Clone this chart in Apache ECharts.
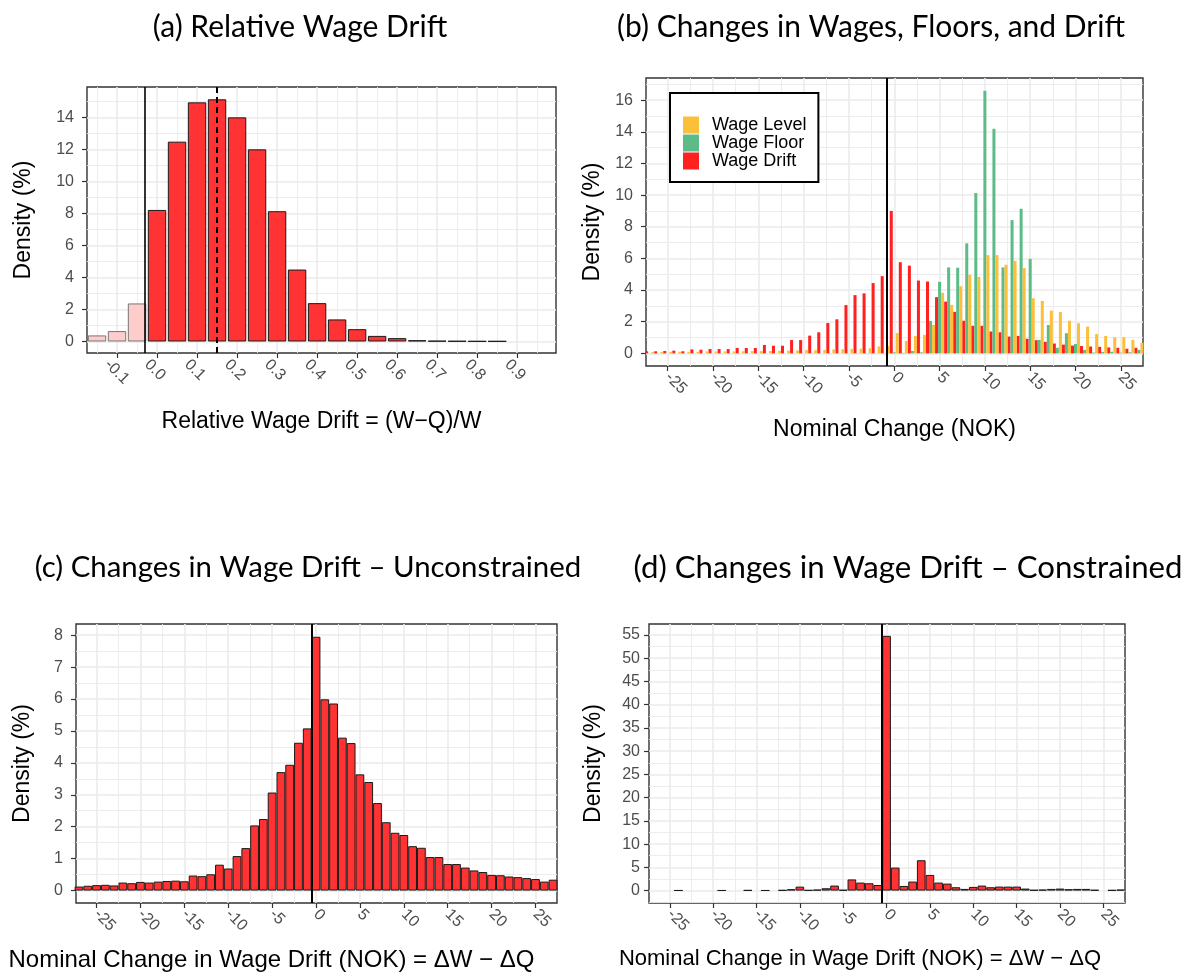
<!DOCTYPE html>
<html>
<head>
<meta charset="utf-8">
<script src="https://cdn.jsdelivr.net/npm/echarts@6/dist/echarts.min.js"></script>
<style>
  html, body { margin: 0; background: #fff; }
  #chart { width: 1189px; height: 974px; }
</style>
</head>
<body>
<div id="chart"></div>
<script>
// ---- (a) relative wage drift: bin centres and density (%)
const driftBins = [-0.15, -0.10, -0.05, 0.00, 0.05, 0.10, 0.15, 0.20, 0.25, 0.30, 0.35,
  0.40, 0.45, 0.50, 0.55, 0.60, 0.65, 0.70, 0.75, 0.80, 0.85];
const driftDensity = [0.38, 0.65, 2.38, 8.23, 12.5, 14.96, 15.15, 14.02, 12.02, 8.15, 4.5,
  2.4, 1.38, 0.77, 0.35, 0.21, 0.08, 0.04, 0.03, 0.02, 0.02];
const driftCut = -0.025;
const driftMean = 0.1535;
const driftTicks = [-0.1, 0, 0.1, 0.2, 0.3, 0.4, 0.5, 0.6, 0.7, 0.8, 0.9];
const driftMinor = [-0.15, -0.05, 0.05, 0.15, 0.25, 0.35, 0.45, 0.55, 0.65, 0.75, 0.85, 0.95];
const densTicksA = [0, 2, 4, 6, 8, 10, 12, 14];
const densMinorA = [1, 3, 5, 7, 9, 11, 13, 15];

// ---- (b) changes in wages, floors and drift (NOK, -27..27)
const nokBins = [-27, -26, -25, -24, -23, -22, -21, -20, -19, -18, -17, -16, -15, -14, -13, -12,
  -11, -10, -9, -8, -7, -6, -5, -4, -3, -2, -1, 0, 1, 2, 3, 4, 5, 6, 7, 8, 9, 10, 11, 12, 13,
  14, 15, 16, 17, 18, 19, 20, 21, 22, 23, 24, 25, 26, 27];
const wageLevel = [0.08, 0.08, 0.1, 0.1, 0.1, 0.1, 0.12, 0.12, 0.12, 0.12, 0.13, 0.14, 0.14, 0.15,
  0.16, 0.17, 0.18, 0.2, 0.2, 0.22, 0.25, 0.26, 0.28, 0.3, 0.32, 0.44, 0.46, 1.28, 0.79, 1.1,
  1.17, 1.8, 3.83, 3.06, 4.24, 4.96, 4.83, 6.21, 6.21, 5.6, 5.84, 5.39, 3.48, 3.31, 2.7, 2.61,
  2.06, 1.9, 1.69, 1.23, 1.1, 1.02, 1.03, 0.85, 0.67];
const wageFloor = [0, 0, 0, 0, 0, 0, 0, 0, 0, 0, 0, 0, 0, 0, 0, 0, 0, 0, 0, 0, 0, 0, 0, 0, 0, 0, 0,
  0.06, 0.03, 0.15, 0.06, 2.05, 4.52, 5.43, 5.41, 6.95, 10.13, 16.59, 14.19, 5.43, 8.42, 9.14,
  5.97, 0.85, 1.79, 0.35, 1.27, 0.59, 0.22, 0.05, 0.09, 0.1, 0.04, 0.07, 0.22];
const wageDrift = [0.13, 0.13, 0.15, 0.17, 0.13, 0.25, 0.23, 0.27, 0.27, 0.27, 0.34, 0.34, 0.34,
  0.53, 0.48, 0.48, 0.84, 0.84, 1.12, 1.33, 1.92, 2.15, 3.05, 3.68, 3.79, 4.44, 4.88, 9.0, 5.76,
  5.54, 4.6, 4.54, 3.55, 3.27, 2.62, 2.06, 1.74, 1.74, 1.38, 1.33, 1.06, 1.1, 0.92, 0.83, 0.73,
  0.62, 0.55, 0.49, 0.46, 0.43, 0.41, 0.37, 0.35, 0.29, 0.35];
const nokTicks = [-25, -20, -15, -10, -5, 0, 5, 10, 15, 20, 25];
const nokMinor = [-22.5, -17.5, -12.5, -7.5, -2.5, 2.5, 7.5, 12.5, 17.5, 22.5];
const densTicksB = [0, 2, 4, 6, 8, 10, 12, 14, 16];
const densMinorB = [1, 3, 5, 7, 9, 11, 13, 15, 17];

// ---- (c) changes in wage drift, unconstrained
const unconstrained = [0.125, 0.15, 0.17, 0.18, 0.16, 0.25, 0.23, 0.27, 0.25, 0.28, 0.3, 0.31,
  0.29, 0.47, 0.45, 0.51, 0.81, 0.69, 1.08, 1.33, 2.04, 2.24, 3.07, 3.71, 3.94, 4.63, 5.08, 7.95,
  5.99, 5.86, 4.79, 4.62, 3.64, 3.4, 2.74, 2.14, 1.81, 1.74, 1.39, 1.34, 1.05, 1.05, 0.83, 0.83,
  0.72, 0.63, 0.58, 0.49, 0.48, 0.44, 0.42, 0.39, 0.36, 0.28, 0.34];
const densTicksC = [0, 1, 2, 3, 4, 5, 6, 7, 8];
const densMinorC = [0.5, 1.5, 2.5, 3.5, 4.5, 5.5, 6.5, 7.5];

// ---- (d) changes in wage drift, constrained (null = empty bin)
const constrained = [null, null, null, 0.05, null, null, null, null, 0.05, null, null, 0.08, null,
  0.05, null, 0.1, 0.3, 0.85, 0.1, 0.2, 0.5, 1.08, 0.15, 2.4, 1.72, 1.58, 1.2, 54.8, 4.95, 1.0,
  1.94, 6.53, 3.37, 1.72, 1.5, 0.72, 0.36, 0.79, 1.08, 0.72, 0.86, 0.86, 0.86, 0.43, 0.14, 0.2,
  0.36, 0.43, 0.29, 0.36, 0.36, 0.14, null, 0.1, 0.2];
const densTicksD = [0, 5, 10, 15, 20, 25, 30, 35, 40, 45, 50, 55];
const densMinorD = [-2.5, 2.5, 7.5, 12.5, 17.5, 22.5, 27.5, 32.5, 37.5, 42.5, 47.5, 52.5];

const FONT = '"Liberation Sans", Arial, Helvetica, sans-serif';
const TITLE_FONT = 'Lato, "Open Sans", sans-serif';
const GRID = '#EBEBEB';
const RED = '#FF3333';

const chart = echarts.init(document.getElementById('chart'));

// major axis: ticks, labels, major grid lines
function mainAxis(dim, grid, min, max, ticks, opt) {
  const ax = {
    type: 'value', gridIndex: grid, min: min, max: max,
    axisLine: { show: false, onZero: false },
    axisTick: { show: true, customValues: ticks, length: 5, lineStyle: { color: '#333', width: 1.2 } },
    axisLabel: {
      customValues: ticks, margin: opt.margin, color: '#4D4D4D', fontSize: opt.fontSize,
      fontFamily: FONT, formatter: opt.fmt, hideOverlap: false, padding: opt.labelPad || 0
    },
    splitLine: { show: true, lineStyle: { color: GRID, width: 1.6 } },
    name: opt.name, nameLocation: 'middle', nameGap: opt.nameGap, nameMoveOverlap: false,
    nameTextStyle: { color: '#000', fontSize: opt.nameSize, fontFamily: FONT, padding: opt.namePad || 0 }
  };
  if (dim === 'x') ax.axisLabel.rotate = -45;
  return ax;
}
// minor axis: only the thin grid lines
function minorAxis(grid, min, max, ticks) {
  return {
    type: 'value', gridIndex: grid, min: min, max: max,
    axisLine: { show: false, onZero: false }, axisLabel: { show: false },
    axisTick: { show: false, customValues: ticks },
    splitLine: { show: true, lineStyle: { color: GRID, width: 0.9 } }
  };
}
const intFmt = v => String(Math.round(v));
const vline = (x, type, width) => ({ xAxis: x, lineStyle: { color: '#000', type: type, width: width } });
const markLines = lines => ({ silent: true, symbol: 'none', label: { show: false }, data: lines });
const titleStyle = size => ({ fontFamily: TITLE_FONT, fontSize: size, fontWeight: 'normal', color: '#000' });

const option = {
  backgroundColor: '#fff',
  animation: false,
  title: [
    { text: '(a) Relative Wage Drift', left: 300, top: 12, textStyle: titleStyle(30) },
    { text: '(b) Changes in Wages, Floors, and Drift', left: 871, top: 12, textStyle: titleStyle(30) },
    { text: '(c) Changes in Wage Drift – Unconstrained', left: 308, top: 553, textStyle: titleStyle(29.4) },
    { text: '(d) Changes in Wage Drift – Constrained', left: 908, top: 552, textStyle: titleStyle(31.2) }
  ].map(t => Object.assign(t, { textAlign: 'center', padding: 0 })),
  legend: {
    data: ['Wage Level', 'Wage Floor', 'Wage Drift'],
    orient: 'vertical', left: 670, top: 93,
    padding: [23, 12, 12, 13], itemGap: 0, itemWidth: 16, itemHeight: 17,
    backgroundColor: '#fff', borderColor: '#000', borderWidth: 2,
    icon: 'rect',
    textStyle: { fontFamily: FONT, fontSize: 18, color: '#000', padding: [0, 0, 0, 8], lineHeight: 17 }
  },
  grid: [
    { left: 87, top: 87, width: 469, height: 266 },
    { left: 646, top: 78, width: 497, height: 288 },
    { left: 76, top: 624, width: 481, height: 279 },
    { left: 649, top: 624, width: 476, height: 279 }
  ].map(g => Object.assign(g, {
    show: true, borderColor: '#333', borderWidth: 1.4, backgroundColor: '#fff',
    containLabel: false, outerBoundsMode: 'none'
  })),
  xAxis: [
    mainAxis('x', 0, -0.175, 0.997, driftTicks, { margin: 19, fontSize: 16, fmt: v => v.toFixed(1),
      labelPad: [0, 0, 0, -14], name: 'Relative Wage Drift = (W\u2212Q)/W', nameGap: 57, nameSize: 23 }),
    minorAxis(0, -0.175, 0.997, driftMinor),
    mainAxis('x', 1, -27.4, 27.45, nokTicks, { margin: 9, fontSize: 16, fmt: intFmt,
      name: 'Nominal Change (NOK)', nameGap: 52, nameSize: 23 }),
    minorAxis(1, -27.4, 27.45, nokMinor),
    mainAxis('x', 2, -27.34, 27.45, nokTicks, { margin: 9, fontSize: 16, fmt: intFmt,
      name: 'Nominal Change in Wage Drift (NOK) = \u0394W \u2212 \u0394Q', nameGap: 45, nameSize: 24,
      namePad: [0, 90, 0, 0] }),
    minorAxis(2, -27.34, 27.45, nokMinor),
    mainAxis('x', 3, -27.4, 27.5, nokTicks, { margin: 9, fontSize: 16, fmt: intFmt,
      name: 'Nominal Change in Wage Drift (NOK) = \u0394W \u2212 \u0394Q', nameGap: 45, nameSize: 22,
      namePad: [0, 54, 0, 0] }),
    minorAxis(3, -27.4, 27.5, nokMinor)
  ],
  yAxis: [
    mainAxis('y', 0, -0.72, 15.92, densTicksA, { margin: 13, fontSize: 16, fmt: intFmt,
      name: 'Density (%)', nameGap: 52, nameSize: 23 }),
    minorAxis(0, -0.72, 15.92, densMinorA),
    mainAxis('y', 1, -0.8, 17.4, densTicksB, { margin: 13, fontSize: 16, fmt: intFmt,
      name: 'Density (%)', nameGap: 42, nameSize: 23 }),
    minorAxis(1, -0.8, 17.4, densMinorB),
    mainAxis('y', 2, -0.39, 8.35, densTicksC, { margin: 13, fontSize: 16, fmt: intFmt,
      name: 'Density (%)', nameGap: 42, nameSize: 23 }),
    minorAxis(2, -0.39, 8.35, densMinorC),
    mainAxis('y', 3, -2.67, 57.35, densTicksD, { margin: 9, fontSize: 16, fmt: intFmt,
      name: 'Density (%)', nameGap: 44, nameSize: 23 }),
    minorAxis(3, -2.67, 57.35, densMinorD)
  ],
  series: [
    {
      type: 'bar', xAxisIndex: 0, yAxisIndex: 0, barWidth: '92%',
      data: driftBins.map((b, i) => ({
        value: [b, driftDensity[i]],
        itemStyle: b < driftCut
          ? { color: '#FFCCCC', borderColor: '#777', borderWidth: 1 }
          : { color: RED, borderColor: '#1a1a1a', borderWidth: 1 }
      })),
      markLine: markLines([vline(driftCut, 'solid', 1.6), vline(driftMean, [6, 4], 2)])
    },
    {
      name: 'Wage Drift', type: 'bar', xAxisIndex: 2, yAxisIndex: 2,
      barGap: '0%', barCategoryGap: '0%',
      itemStyle: { color: '#FF2020' },
      data: nokBins.map((b, i) => [b, wageDrift[i]]),
      markLine: markLines([vline(-0.5, 'solid', 2)])
    },
    {
      name: 'Wage Floor', type: 'bar', xAxisIndex: 2, yAxisIndex: 2,
      barGap: '0%', barCategoryGap: '0%',
      itemStyle: { color: '#5DBB87' },
      data: nokBins.map((b, i) => [b, wageFloor[i]])
    },
    {
      name: 'Wage Level', type: 'bar', xAxisIndex: 2, yAxisIndex: 2,
      barGap: '0%', barCategoryGap: '0%',
      itemStyle: { color: '#FCBF3A' },
      data: nokBins.map((b, i) => [b, wageLevel[i]])
    },
    {
      type: 'bar', xAxisIndex: 4, yAxisIndex: 4, barCategoryGap: '0%',
      itemStyle: { color: RED, borderColor: '#1a1a1a', borderWidth: 1 },
      data: nokBins.map((b, i) => [b, unconstrained[i]]),
      markLine: markLines([vline(-0.5, 'solid', 2)])
    },
    {
      type: 'bar', xAxisIndex: 6, yAxisIndex: 6, barCategoryGap: '0%',
      itemStyle: { color: RED, borderColor: '#1a1a1a', borderWidth: 1 },
      data: nokBins.map((b, i) => [b, constrained[i]]),
      markLine: markLines([vline(-0.5, 'solid', 2)])
    }
  ]
};
chart.setOption(option);
</script>
</body>
</html>
